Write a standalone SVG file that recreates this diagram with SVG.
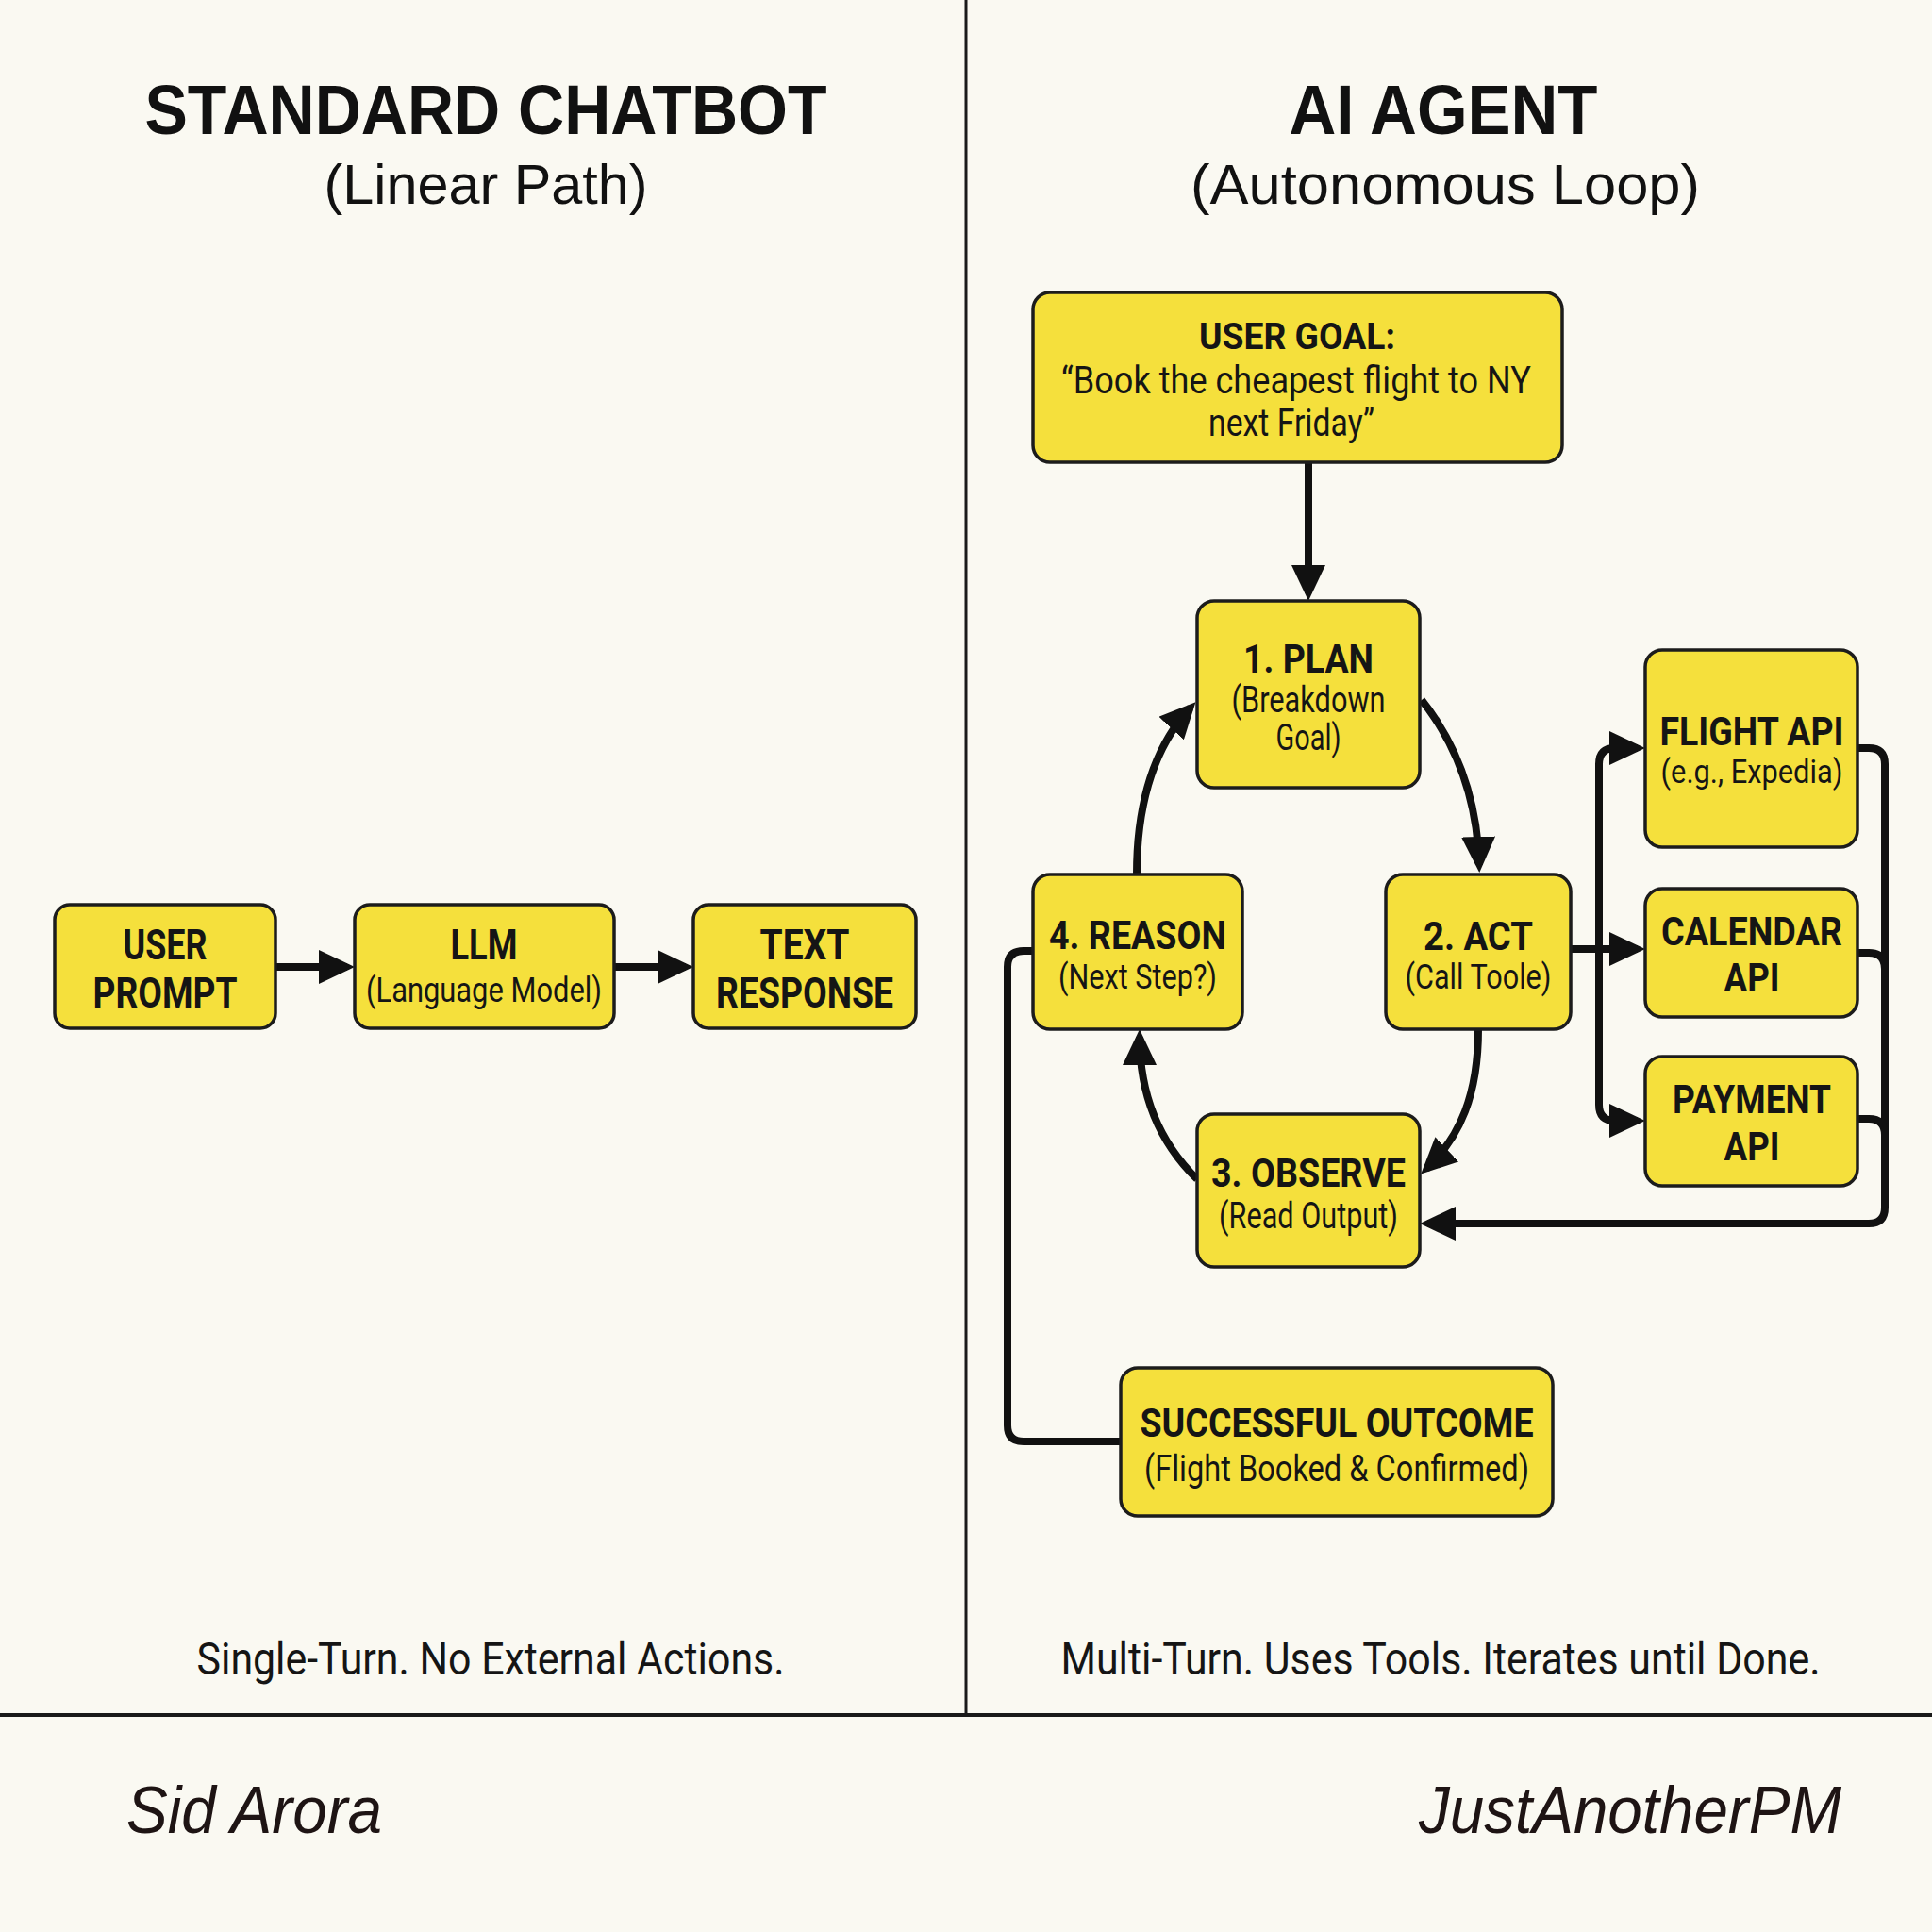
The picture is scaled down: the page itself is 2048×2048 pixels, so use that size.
<svg xmlns="http://www.w3.org/2000/svg" width="2048" height="2048" viewBox="0 0 2048 2048">
<defs>
<marker id="ah" markerUnits="userSpaceOnUse" markerWidth="38" markerHeight="36" viewBox="0 0 38 36" refX="30" refY="18" orient="auto"><path d="M0,0 L38,18 L0,36 Z" fill="#111"/></marker>
<style>
.box{fill:#f5e03c;stroke:#1c1c1c;stroke-width:3.5}
.b{font-family:Roboto,"Liberation Sans",sans-serif;font-weight:700;fill:#151515;text-anchor:middle}
.r{font-family:Roboto,"Liberation Sans",sans-serif;font-weight:400;fill:#151515;text-anchor:middle}
.t{font-family:"Liberation Sans",Arial,sans-serif;fill:#111;text-anchor:middle}
.sig{font-family:"Liberation Sans",sans-serif;font-style:italic;fill:#1e1414}
.c{fill:none;stroke:#111;stroke-width:8;stroke-linecap:butt;stroke-linejoin:round}
</style>
</defs>
<rect width="2048" height="2048" fill="#faf9f2"/>
<g id="dividers">
<line x1="1024" y1="0" x2="1024" y2="1818" stroke="#1a1a1a" stroke-width="3"/>
<line x1="0" y1="1818" x2="2048" y2="1818" stroke="#1a1a1a" stroke-width="4"/>
</g>
<g id="titles">
<text class="t" x="515" y="142" font-size="75" font-weight="700" textLength="723" lengthAdjust="spacingAndGlyphs">STANDARD CHATBOT</text>
<text class="t" x="515" y="216" font-size="60" textLength="343" lengthAdjust="spacingAndGlyphs">(Linear Path)</text>
<text class="t" x="1530" y="142" font-size="75" font-weight="700" textLength="327" lengthAdjust="spacingAndGlyphs">AI AGENT</text>
<text class="t" x="1532" y="216" font-size="60" textLength="540" lengthAdjust="spacingAndGlyphs">(Autonomous Loop)</text>
</g>
<g id="connectors">
<path class="c" d="M292,1025 H368" marker-end="url(#ah)"/>
<path class="c" d="M651,1025 H727" marker-end="url(#ah)"/>
<path class="c" d="M1387,490 V629" marker-end="url(#ah)"/>
<path class="c" d="M1507,742 C1545,790 1566,850 1568,917" marker-end="url(#ah)"/>
<path class="c" d="M1567,1091 C1567,1160 1548,1205 1512,1239" marker-end="url(#ah)"/>
<path class="c" d="M1269,1250 C1228,1210 1208,1160 1208,1099" marker-end="url(#ah)"/>
<path class="c" d="M1205,927 C1205,850 1225,790 1262,750" marker-end="url(#ah)"/>
<path class="c" d="M1665,1006 H1736" marker-end="url(#ah)"/>
<path class="c" d="M1695,1006 V810 Q1695,793 1712,793 H1736" marker-end="url(#ah)"/>
<path class="c" d="M1695,1006 V1171 Q1695,1188 1712,1188 H1736" marker-end="url(#ah)"/>
<path class="c" d="M1969,793 H1981 Q1998,793 1998,810 V1280 Q1998,1297 1981,1297 H1513" marker-end="url(#ah)"/>
<path class="c" d="M1969,1010 H1981 Q1998,1010 1998,1027"/>
<path class="c" d="M1969,1186 H1981 Q1998,1186 1998,1203"/>
<path class="c" d="M1188,1528 H1085 Q1068,1528 1068,1511 V1025 Q1068,1008 1085,1008 H1095"/>
</g>
<g id="user-prompt">
<rect class="box" x="58" y="959" width="234" height="131" rx="16"/>
<text class="b" x="175" y="1017" font-size="45" textLength="89" lengthAdjust="spacingAndGlyphs">USER</text>
<text class="b" x="175" y="1068" font-size="45" textLength="153" lengthAdjust="spacingAndGlyphs">PROMPT</text>
</g>
<g id="llm">
<rect class="box" x="376" y="959" width="275" height="131" rx="16"/>
<text class="b" x="513" y="1017" font-size="45" textLength="71" lengthAdjust="spacingAndGlyphs">LLM</text>
<text class="r" x="513" y="1062" font-size="37" textLength="250" lengthAdjust="spacingAndGlyphs">(Language Model)</text>
</g>
<g id="text-response">
<rect class="box" x="735" y="959" width="236" height="131" rx="16"/>
<text class="b" x="853" y="1017" font-size="45" textLength="95" lengthAdjust="spacingAndGlyphs">TEXT</text>
<text class="b" x="853" y="1068" font-size="45" textLength="188" lengthAdjust="spacingAndGlyphs">RESPONSE</text>
</g>
<g id="user-goal">
<rect class="box" x="1095" y="310" width="561" height="180" rx="18"/>
<text class="b" x="1375" y="370" font-size="38" textLength="208" lengthAdjust="spacingAndGlyphs">USER GOAL:</text>
<text class="r" x="1374" y="417" font-size="40" textLength="498" lengthAdjust="spacingAndGlyphs">“Book the cheapest flight to NY</text>
<text class="r" x="1369" y="462" font-size="40" textLength="176" lengthAdjust="spacingAndGlyphs">next Friday”</text>
</g>
<g id="plan">
<rect class="box" x="1269" y="637" width="236" height="198" rx="18"/>
<text class="b" x="1387" y="713" font-size="43" textLength="138" lengthAdjust="spacingAndGlyphs">1. PLAN</text>
<text class="r" x="1387" y="755" font-size="38" textLength="163" lengthAdjust="spacingAndGlyphs">(Breakdown</text>
<text class="r" x="1387" y="795" font-size="38" textLength="69" lengthAdjust="spacingAndGlyphs">Goal)</text>
</g>
<g id="act">
<rect class="box" x="1469" y="927" width="196" height="164" rx="18"/>
<text class="b" x="1567" y="1007" font-size="42" textLength="116" lengthAdjust="spacingAndGlyphs">2. ACT</text>
<text class="r" x="1567" y="1048" font-size="37" textLength="155" lengthAdjust="spacingAndGlyphs">(Call Toole)</text>
</g>
<g id="reason">
<rect class="box" x="1095" y="927" width="222" height="164" rx="18"/>
<text class="b" x="1206" y="1006" font-size="42" textLength="188" lengthAdjust="spacingAndGlyphs">4. REASON</text>
<text class="r" x="1206" y="1048" font-size="37" textLength="168" lengthAdjust="spacingAndGlyphs">(Next Step?)</text>
</g>
<g id="observe">
<rect class="box" x="1269" y="1181" width="236" height="162" rx="18"/>
<text class="b" x="1387" y="1258" font-size="42" textLength="206" lengthAdjust="spacingAndGlyphs">3. OBSERVE</text>
<text class="r" x="1387" y="1302" font-size="38" textLength="190" lengthAdjust="spacingAndGlyphs">(Read Output)</text>
</g>
<g id="flight-api">
<rect class="box" x="1744" y="689" width="225" height="209" rx="18"/>
<text class="b" x="1857" y="790" font-size="42" textLength="195" lengthAdjust="spacingAndGlyphs">FLIGHT API</text>
<text class="r" x="1857" y="830" font-size="35" textLength="193" lengthAdjust="spacingAndGlyphs">(e.g., Expedia)</text>
</g>
<g id="calendar-api">
<rect class="box" x="1744" y="942" width="225" height="136" rx="18"/>
<text class="b" x="1857" y="1002" font-size="42" textLength="192" lengthAdjust="spacingAndGlyphs">CALENDAR</text>
<text class="b" x="1857" y="1051" font-size="42" textLength="59" lengthAdjust="spacingAndGlyphs">API</text>
</g>
<g id="payment-api">
<rect class="box" x="1744" y="1120" width="225" height="137" rx="18"/>
<text class="b" x="1857" y="1180" font-size="42" textLength="168" lengthAdjust="spacingAndGlyphs">PAYMENT</text>
<text class="b" x="1857" y="1230" font-size="42" textLength="59" lengthAdjust="spacingAndGlyphs">API</text>
</g>
<g id="successful-outcome">
<rect class="box" x="1188" y="1450" width="458" height="157" rx="18"/>
<text class="b" x="1417" y="1523" font-size="42" textLength="417" lengthAdjust="spacingAndGlyphs">SUCCESSFUL OUTCOME</text>
<text class="r" x="1417" y="1570" font-size="39" textLength="408" lengthAdjust="spacingAndGlyphs">(Flight Booked &amp; Confirmed)</text>
</g>
<g id="captions">
<text class="r" x="520" y="1775" font-size="48" textLength="623" lengthAdjust="spacingAndGlyphs">Single-Turn. No External Actions.</text>
<text class="r" x="1527" y="1775" font-size="48" textLength="805" lengthAdjust="spacingAndGlyphs">Multi-Turn. Uses Tools. Iterates until Done.</text>
</g>
<g id="signatures">
<text class="sig" x="134" y="1943" font-size="70" textLength="271" lengthAdjust="spacingAndGlyphs">Sid Arora</text>
<text class="sig" x="1504" y="1943" font-size="70" textLength="448" lengthAdjust="spacingAndGlyphs">JustAnotherPM</text>
</g>
</svg>
